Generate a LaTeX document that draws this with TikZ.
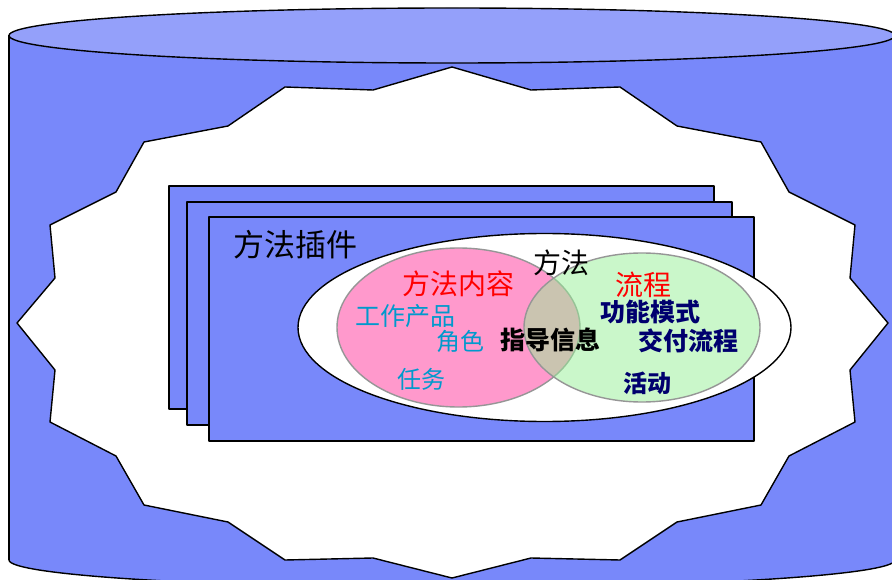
\documentclass[tikz,border=0pt]{standalone}
\usepackage{fontspec}
\newfontfamily\cjk{Noto Sans CJK SC}
\definecolor{cylbody}{RGB}{120,136,250}
\definecolor{cyltop}{RGB}{148,160,250}
\definecolor{pinkfill}{RGB}{255,153,204}
\definecolor{greenfill}{RGB}{150,240,150}
\definecolor{cyantext}{RGB}{0,153,204}
\definecolor{navytext}{RGB}{0,0,110}
\definecolor{edgegray}{RGB}{150,150,150}
\tikzset{
  outl/.style={draw=black, line width=1.4pt, line join=round},
  pagebox/.style={outl, fill=cylbody},
  lbl/.style={inner sep=0pt, font=\cjk},
}
\newcommand{\fsz}[1]{\fontsize{#1}{#1}\selectfont}
\begin{document}
\begin{tikzpicture}[x=1pt,y=-1pt]
\useasboundingbox (0,0) rectangle (892,580);
\clip (0,0) rectangle (892,580);
% cylinder body
\fill[cylbody] (9,35.5) rectangle (895,560);
\fill[cylbody] (452,560) ellipse [x radius=443pt, y radius=27.5pt];
\draw[outl] (9,35.5) -- (9,560);
\begin{scope}
  \clip (0,560) rectangle (892,600);
  \draw[outl] (452,560) ellipse [x radius=443pt, y radius=27.5pt];
\end{scope}
\draw[outl, fill=cyltop] (452,35.5) ellipse [x radius=443pt, y radius=27.5pt];
% starburst
\draw[outl, fill=white] (452,67) -- (531,90) -- (620,87) -- (677,126) -- (761,142) -- (789,192) -- (855,225) -- (850,278) -- (888,323) -- (850,370) -- (855,422) -- (789,456) -- (761,505) -- (677,522) -- (620,560) -- (531,558) -- (452,578) -- (373,558) -- (285,560) -- (228,522) -- (144,505) -- (116,456) -- (50,422) -- (55,370) -- (17,323) -- (55,278) -- (50,225) -- (116,192) -- (144,142) -- (228,126) -- (285,87) -- (373,90) -- cycle;
% stacked pages
\draw[pagebox] (169,186) rectangle (714,409);
\draw[pagebox] (187,202) rectangle (732,425);
\draw[pagebox] (209,217) rectangle (754,441);
% method ellipse
\draw[outl, fill=white] (544.5,327.5) ellipse [x radius=246.5pt, y radius=94pt];
% venn
\draw[draw=edgegray, line width=1.4pt, fill=pinkfill] (458.5,327.5) ellipse [x radius=121.5pt, y radius=79.5pt];
\fill[greenfill, fill opacity=0.5] (642,327.5) ellipse [x radius=118pt, y radius=74.5pt];
\draw[draw=edgegray, line width=1.4pt] (642,327.5) ellipse [x radius=118pt, y radius=74.5pt];
% labels
\node[lbl, font=\cjk\fsz{31}] (plugin) at (295,245) {方法插件};
\node[lbl, font=\cjk\fsz{28}] (method) at (561,263) {方法};
\node[lbl, font=\cjk\fsz{28}, text=red] (content) at (458,284) {方法内容};
\node[lbl, font=\cjk\fsz{28}, text=red] (process) at (643,285) {流程};
\node[lbl, font=\cjk\fsz{25}, text=cyantext] (workprod) at (405,316) {工作产品};
\node[lbl, font=\cjk\fsz{24}, text=cyantext] (role) at (460,341) {角色};
\node[lbl, font=\cjk\bfseries\fsz{25}] (guide) at (550,340) {指导信息};
\node[lbl, font=\cjk\bfseries\fsz{25}, text=navytext] (capab) at (650,312) {功能模式};
\node[lbl, font=\cjk\bfseries\fsz{25}, text=navytext] (deliv) at (688,341) {交付流程};
\node[lbl, font=\cjk\fsz{24}, text=cyantext] (task) at (421,379) {任务};
\node[lbl, font=\cjk\bfseries\fsz{24}, text=navytext] (activity) at (647,383) {活动};
\end{tikzpicture}
\end{document}
